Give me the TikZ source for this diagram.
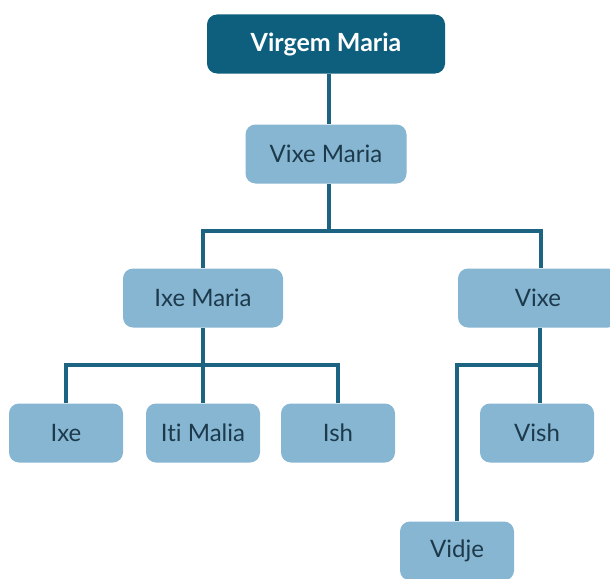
\documentclass[tikz,border=0pt]{standalone}
\usepackage{fontspec}
\setmainfont{Lato}[Ligatures={NoCommon,NoRequired,NoContextual}]
\usepackage{tikz}
\usetikzlibrary{calc}
\definecolor{topblue}{HTML}{0E5F7E}
\definecolor{boxblue}{HTML}{86B6D2}
\definecolor{lineblue}{HTML}{1C6482}
\definecolor{textdark}{HTML}{1D3A4C}
\tikzset{
RootBox/.style={
 draw=none,
 fill=topblue,
 rounded corners=10pt,
 text=white,
 font=\fontsize{25}{30}\selectfont\bfseries,
 minimum width=238pt,
 minimum height=59pt
 },
NomBox/.style={
 draw=none,
 fill=boxblue,
 rounded corners=10pt,
 text=textdark,
 font=\fontsize{24}{29}\selectfont,
 minimum width=#1,
 minimum height=59pt
 },
NomBox/.default={114pt},
Lien/.style={
 draw=lineblue,
 line width=3.2pt
 }
}
\begin{document}
\begin{tikzpicture}[x=1pt,y=-1pt]
\useasboundingbox (0,0) rectangle (610,578);
\clip (0,0) rectangle (610,578);
\node[RootBox] (virgem) at (326,44) {Virgem Maria};
\node[NomBox=161pt] (vixemaria) at (326,154) {Vixe Maria};
\node[NomBox=160pt] (ixemaria) at (203,298) {Ixe Maria};
\node[NomBox=160pt] (vixe) at (538,298) {Vixe};
\node[NomBox] (ixe) at (66,433) {Ixe};
\node[NomBox] (itimalia) at (203,433) {Iti Malia};
\node[NomBox] (ish) at (338,433) {Ish};
\node[NomBox] (vish) at (537,433) {Vish};
\node[NomBox] (vidje) at (457,551) {Vidje};
\coordinate (b1) at (329,231);
\coordinate (b2) at (ixemaria.south |- 0,365);
\coordinate (b3) at (540,365);
\draw[Lien] (virgem.south -| b1) -- (vixemaria.north -| b1);
\draw[Lien] (vixemaria.south -| b1) -- (b1);
\draw[Lien] (ixemaria.north) |- (b1) -| ($(vixe.north)+(3,0)$);
\draw[Lien] (ixemaria.south) -- (itimalia.north);
\draw[Lien] (ixe.north) |- (b2) -| (ish.north);
\draw[Lien] (vixe.south -| b3) -- (vish.north -| b3);
\draw[Lien] (vidje.north) |- (b3);
\end{tikzpicture}
\end{document}
